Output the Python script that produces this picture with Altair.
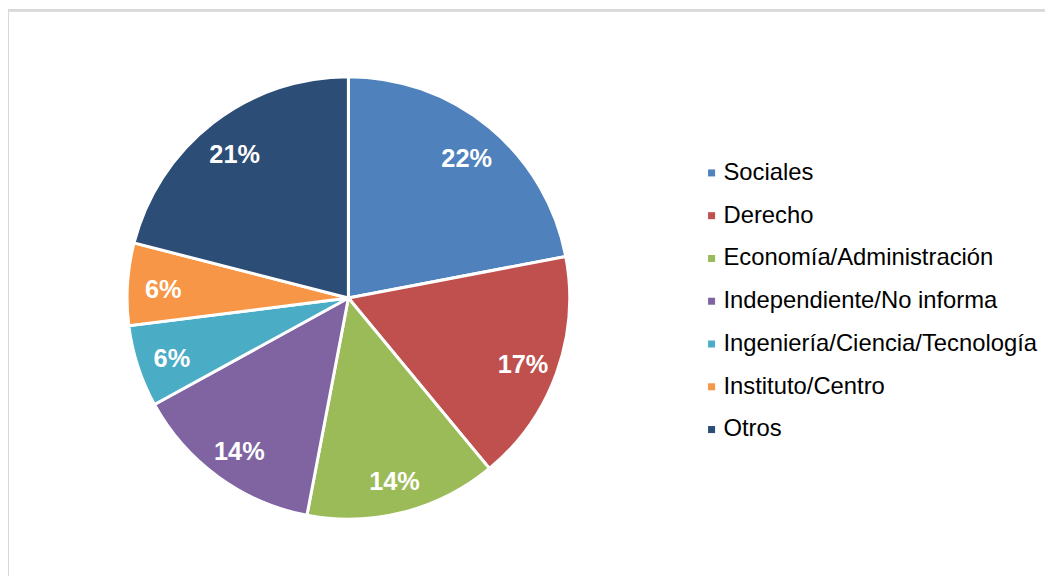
import altair as alt
import pandas as pd

categories = ["Sociales", "Derecho", "Economía/Administración", "Independiente/No informa",
              "Ingeniería/Ciencia/Tecnología", "Instituto/Centro", "Otros"]
values = [22, 17, 14, 14, 6, 6, 21]
colors = ["#4F81BD", "#C0504D", "#9BBB59", "#8064A2", "#4BACC6", "#F79646", "#2C4D75"]

df = pd.DataFrame({"cat": categories, "value": values, "idx": list(range(len(values)))})

CX, CY, R = 343, 290, 223
FONT = "Liberation Sans"

base = alt.Chart(df).encode(
    theta=alt.Theta("value:Q", stack=True),
    order=alt.Order("idx:Q"),
)

arcs = base.mark_arc(outerRadius=R, stroke="white", strokeWidth=3).encode(
    x=alt.value(CX), y=alt.value(CY),
    color=alt.Color("cat:N", sort=categories,
                    scale=alt.Scale(domain=categories, range=colors),
                    legend=alt.Legend(title=None, orient="none", legendX=697, legendY=152,
                                      symbolType="square", symbolSize=50, symbolStrokeWidth=0,
                                      labelFontSize=24, labelFont=FONT, labelColor="#000000",
                                      labelOffset=0, rowPadding=19.1, padding=0,
                                      labelLimit=400)),
)

labels = base.mark_text(radius=187, dy=4, font=FONT, fontSize=25.5, fontWeight="bold",
                        color="white").encode(
    x=alt.value(CX), y=alt.value(CY),
    text=alt.Text("label:N"),
).transform_calculate(label="datum.value + '%'")

border_left = alt.Chart(df).mark_rule(color="#d9d9d9", strokeWidth=2).encode(
    x=alt.value(0), y=alt.value(0), y2=alt.value(570))
border_top = alt.Chart(df).mark_rule(color="#d9d9d9", strokeWidth=2).encode(
    x=alt.value(0), x2=alt.value(1045), y=alt.value(0))

chart = alt.layer(border_left, border_top, arcs, labels).properties(
    width=1045, height=570, padding=0, autosize=alt.AutoSizeParams(type="none")
).configure_view(stroke=None)

chart.save("out.html", embed_options={"renderer": "svg", "actions": False})
